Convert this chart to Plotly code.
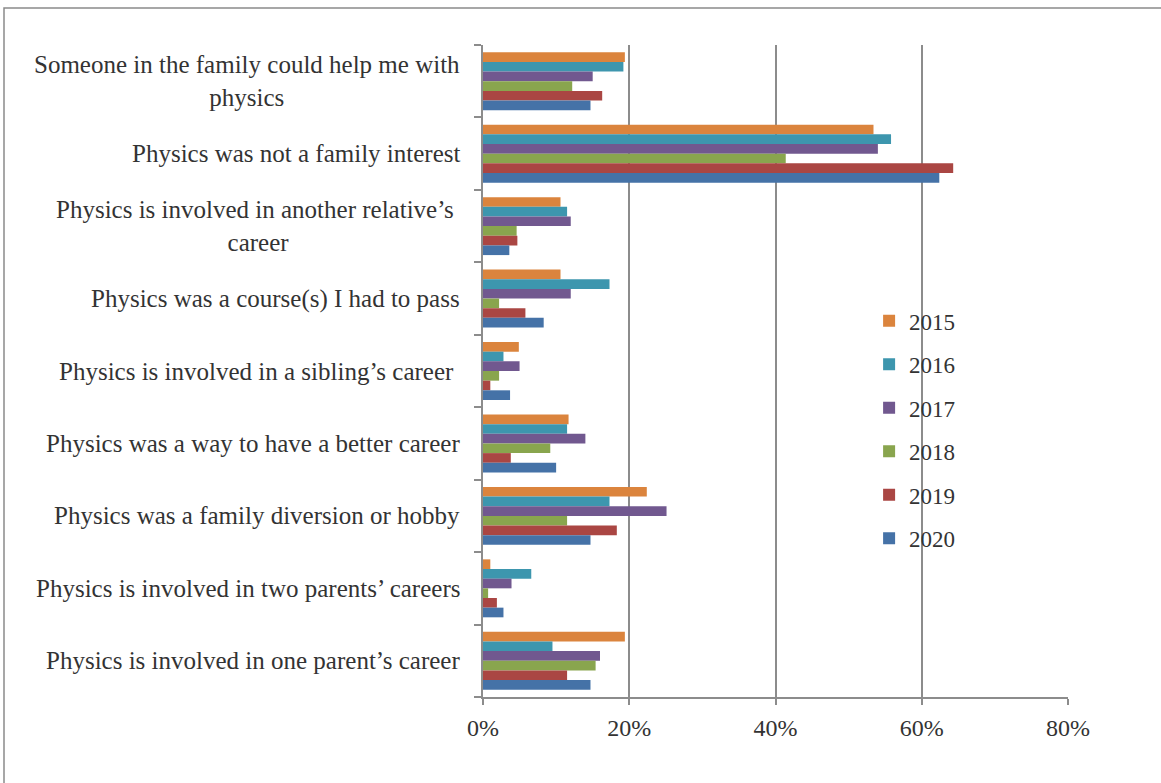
import plotly.graph_objects as go

# Reasons for choosing physics, share of respondents per survey year
categories = [
    "Someone in the family could help me with<br>physics",
    "Physics was not a family interest",
    "Physics is involved in another relative’s\u00a0<br>career",
    "Physics was a course(s) I had to pass",
    "Physics is involved in a sibling’s career\u00a0",
    "Physics was a way to have a better career",
    "Physics was a family diversion or hobby",
    "Physics is involved in two parents’ careers",
    "Physics is involved in one parent’s career",
]

years = ["2015", "2016", "2017", "2018", "2019", "2020"]

share_2015 = [19.4, 53.4, 10.6, 10.6, 4.9, 11.7, 22.4, 1.0, 19.4]
share_2016 = [19.2, 55.8, 11.5, 17.3, 2.8, 11.5, 17.3, 6.6, 9.5]
share_2017 = [15.0, 54.0, 12.0, 12.0, 5.0, 14.0, 25.1, 3.9, 16.0]
share_2018 = [12.2, 41.4, 4.6, 2.2, 2.2, 9.2, 11.5, 0.7, 15.4]
share_2019 = [16.3, 64.3, 4.7, 5.8, 1.0, 3.8, 18.3, 1.9, 11.5]
share_2020 = [14.7, 62.4, 3.6, 8.3, 3.7, 10.0, 14.7, 2.8, 14.7]

series = [share_2015, share_2016, share_2017, share_2018, share_2019, share_2020]
colors = ["#DB843D", "#3D96AE", "#71588F", "#89A54E", "#AA4643", "#4572A7"]

x_ticks = [0, 20, 40, 60, 80]
x_tick_labels = ["0%", "20%", "40%", "60%", "80%"]

FONT = "Liberation Serif"
TEXT = "#333333"
GRID = "#8C8C8C"

# Plot-area geometry in pixels
W, H = 1161, 783
M_L, M_R, M_T, M_B = 483, 93, 45, 86
PW, PH = W - M_L - M_R, H - M_T - M_B

fig = go.Figure()
for year, values, color in zip(years, series, colors):
    fig.add_trace(go.Bar(
        y=list(range(len(categories))),
        x=values,
        name=year,
        orientation="h",
        marker=dict(color=color, line=dict(width=0)),
        legendgroup=year,
    ))

# Category labels, right-aligned against the axis, multi-line ones centred
for i, label in enumerate(categories):
    fig.add_annotation(
        x=0, xref="paper", xshift=-21,
        y=i, yref="y",
        text=label, showarrow=False,
        xanchor="right", yanchor="middle", align="center",
        font=dict(family=FONT, size=25, color=TEXT),
    )

# Chart frame (runs past the right and bottom edges of the page)
frame = dict(
    type="rect", xref="paper", yref="paper",
    x0=(4 - M_L) / PW, x1=(W + 20 - M_L) / PW,
    y0=-(M_B + 20) / PH, y1=1 + (M_T - 8) / PH,
    line=dict(color="#8A8A8A", width=1.5), fillcolor="rgba(0,0,0,0)", layer="below",
)

fig.update_layout(
    width=W, height=H,
    margin=dict(l=M_L, r=M_R, t=M_T, b=M_B),
    paper_bgcolor="white", plot_bgcolor="white",
    barmode="group", bargap=0.2, bargroupgap=0,
    font=dict(family=FONT, size=23, color=TEXT),
    showlegend=True,
    legend=dict(
        x=0.66, xanchor="left", y=0.61, yanchor="top",
        font=dict(family=FONT, size=23, color=TEXT),
        tracegroupgap=10.6, bgcolor="rgba(0,0,0,0)",
    ),
    shapes=[frame],
)

fig.update_xaxes(
    range=[0, 80], tickvals=x_ticks, ticktext=x_tick_labels,
    showgrid=True, gridcolor=GRID, gridwidth=2,
    showline=True, linecolor=GRID, linewidth=2,
    ticks="outside", ticklen=6, tickcolor=GRID, tickwidth=2,
    tickfont=dict(family=FONT, size=24, color=TEXT),
    ticklabelstandoff=2,
    zeroline=False, fixedrange=True,
)
fig.update_yaxes(
    range=[len(categories) - 0.5, -0.5],
    tickvals=[i - 0.5 for i in range(len(categories) + 1)],
    showticklabels=False,
    showgrid=False, showline=True, linecolor=GRID, linewidth=2,
    ticks="outside", ticklen=7, tickcolor=GRID, tickwidth=2,
    zeroline=False, fixedrange=True,
)

fig.write_html("out.html")
